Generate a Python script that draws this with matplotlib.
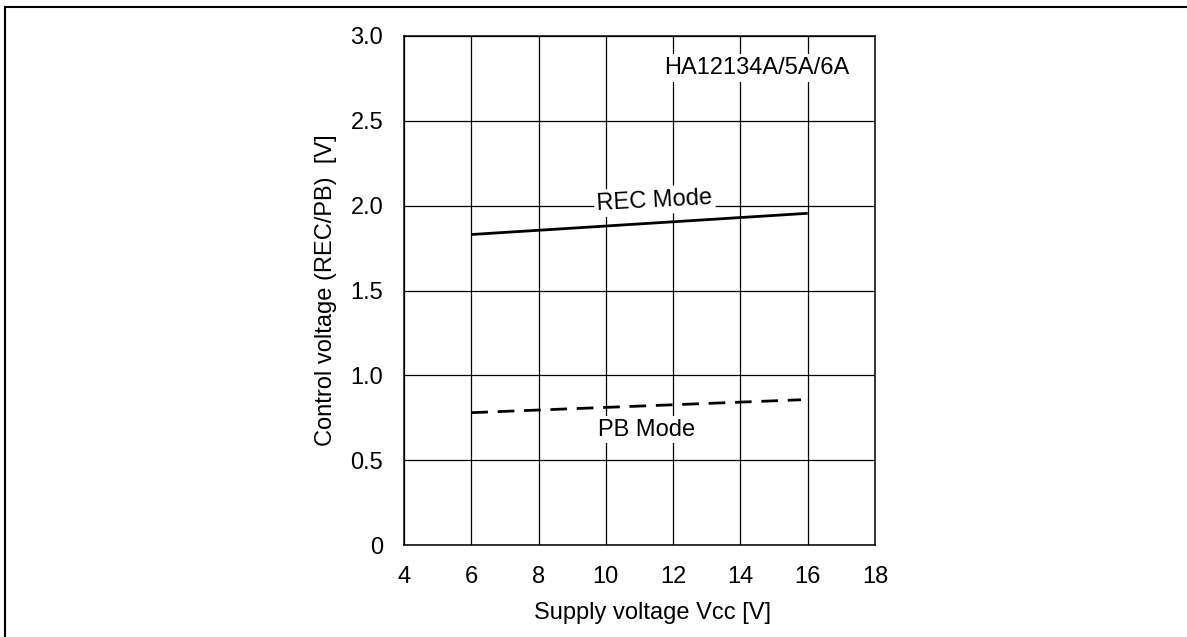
import matplotlib
matplotlib.use('Agg')
import matplotlib.pyplot as plt
from matplotlib.lines import Line2D

plt.rcParams['font.family'] = ['Liberation Sans', 'DejaVu Sans']

# data
supply_v = [6, 16]
rec_mode = [1.83, 1.955]
pb_supply_v = [6, 15.8]
pb_mode = [0.78, 0.856]

x_ticks = [4, 6, 8, 10, 12, 14, 16, 18]
y_ticks = [0, 0.5, 1.0, 1.5, 2.0, 2.5, 3.0]
y_tick_labels = ['0', '0.5', '1.0', '1.5', '2.0', '2.5', '3.0']

fig = plt.figure(figsize=(11.87, 6.37), dpi=100)
ax = fig.add_axes([404 / 1187, 92 / 637, 471 / 1187, 509 / 637])

ax.plot(supply_v, rec_mode, color='black', lw=2, solid_capstyle='butt', zorder=3)
ax.plot(pb_supply_v, pb_mode, color='black', lw=2, dashes=(6, 3.5), zorder=3)

ax.set_xlim(4, 18)
ax.set_ylim(0, 3.0)
ax.set_xticks(x_ticks)
ax.set_yticks(y_ticks)
ax.set_yticklabels(y_tick_labels)
ax.grid(True, color='black', lw=0.9)
ax.set_axisbelow(True)
ax.tick_params(length=0, labelsize=17)
ax.tick_params(axis='x', pad=15)
ax.tick_params(axis='y', pad=15)
for s in ax.spines.values():
    s.set_linewidth(1.1)

ax.set_xlabel('Supply voltage Vcc [V]', fontsize=17, labelpad=10, x=0.527)
ax.set_ylabel('Control voltage (REC/PB)  [V]', fontsize=17, labelpad=10)

box = dict(facecolor='white', edgecolor='none', pad=2)
ax.text(11.45, 2.03, 'REC Mode', fontsize=17, ha='center', va='center',
        rotation=3, bbox=box, zorder=4)
ax.text(11.2, 0.68, 'PB Mode', fontsize=17, ha='center', va='center',
        bbox=box, zorder=4)
ax.text(14.5, 2.81, 'HA12134A/5A/6A', fontsize=17, ha='center', va='center',
        bbox=box, zorder=4)

# page frame (top and left edges visible)
fig.add_artist(Line2D([5 / 1187, 5 / 1187], [0, 1 - 7 / 637], color='black', lw=1.5))
fig.add_artist(Line2D([5 / 1187, 1], [1 - 7 / 637, 1 - 7 / 637], color='black', lw=1.5))

fig.savefig('out.png', dpi=100, facecolor='white')
